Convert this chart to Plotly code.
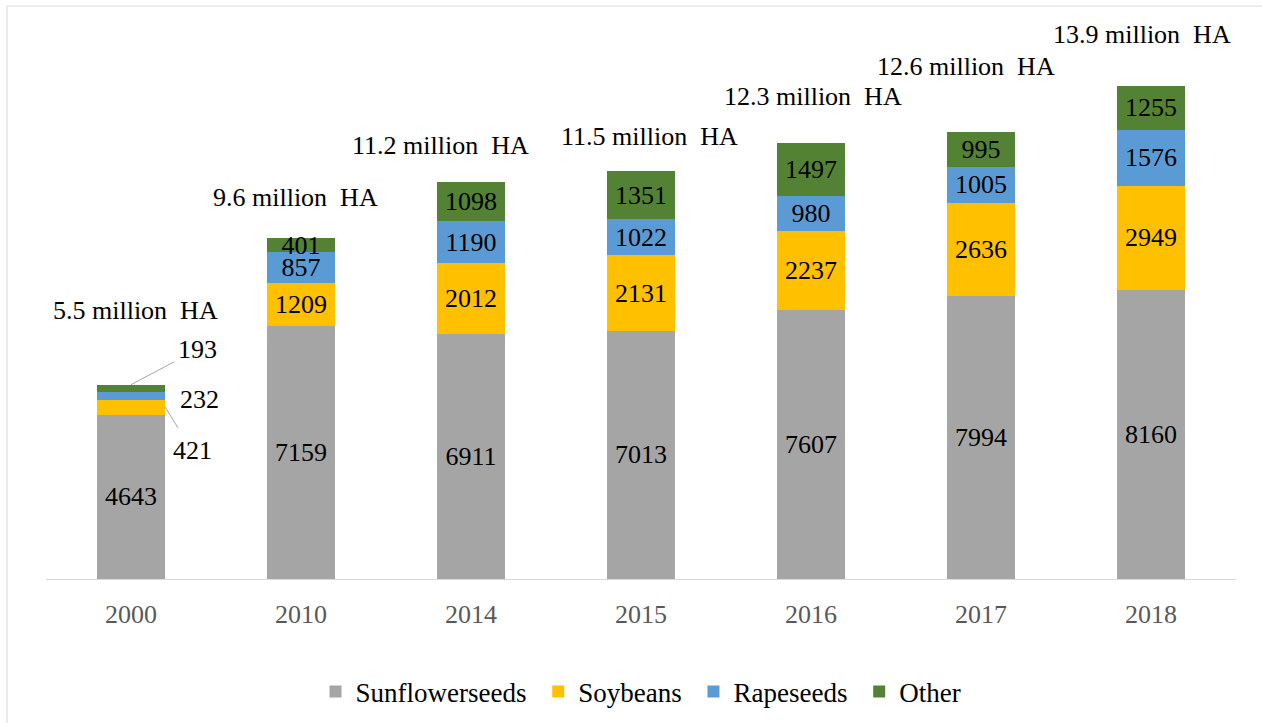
import plotly.graph_objects as go

years = ["2000", "2010", "2014", "2015", "2016", "2017", "2018"]
sunflower = [4643, 7159, 6911, 7013, 7607, 7994, 8160]
soybeans = [421, 1209, 2012, 2131, 2237, 2636, 2949]
rapeseeds = [232, 857, 1190, 1022, 980, 1005, 1576]
other = [193, 401, 1098, 1351, 1497, 995, 1255]
total_labels = ["5.5 million  HA", "9.6 million  HA", "11.2 million  HA", "11.5 million  HA",
                "12.3 million  HA", "12.6 million  HA", "13.9 million  HA"]
# pixel offsets of the total labels relative to bar tops
total_xshift = [4, -6, -31, 8, 2, -15, -9]
total_yshift = [74, 41, 37, 35, 46, 65, 51]

series = [
    ("Sunflowerseeds", sunflower, "#A5A5A5"),
    ("Soybeans", soybeans, "#FFC000"),
    ("Rapeseeds", rapeseeds, "#5B9BD5"),
    ("Other", other, "#548235"),
]

FONT = "Liberation Serif, Times New Roman, serif"
PAD = "\u00a0"

fig = go.Figure()
for i, (name, vals, color) in enumerate(series):
    # 2000 small segments are labelled outside the bar
    texts = [str(v) if (j > 0 or i == 0) else "" for j, v in enumerate(vals)]
    fig.add_trace(go.Bar(
        name=name + (PAD if i < len(series) - 1 else ""), x=years, y=vals, text=texts,
        textposition="inside", insidetextanchor="middle", textangle=0,
        textfont=dict(family=FONT, size=26, color="black"),
        marker=dict(color=color, line=dict(width=0)),
        width=0.4, hoverinfo="skip",
    ))

totals = [a + b + c + d for a, b, c, d in zip(sunflower, soybeans, rapeseeds, other)]
annotations = []
for j, y in enumerate(years):
    annotations.append(dict(
        x=j, y=totals[j], text=total_labels[j].replace("  ", " \u00a0"), showarrow=False,
        xshift=total_xshift[j], yshift=total_yshift[j], yanchor="middle",
        font=dict(family=FONT, size=26, color="black"),
    ))

# outside labels for the 2000 bar (category index 0)
c0 = sunflower[0]
c1 = c0 + soybeans[0]
c2 = c1 + rapeseeds[0]
c3 = c2 + other[0]
annotations.append(dict(x=0, y=c3, text=str(other[0]), showarrow=True,
                        arrowhead=0, arrowwidth=1, arrowcolor="#A6A6A6",
                        ax=66, ay=-35, xanchor="center", yanchor="middle",
                        standoff=0, startstandoff=2,
                        font=dict(family=FONT, size=26, color="black")))
annotations.append(dict(x=0, y=c2, text=str(rapeseeds[0]), showarrow=False,
                        xshift=68, yshift=-8, yanchor="middle",
                        font=dict(family=FONT, size=26, color="black")))
annotations.append(dict(x=0, y=c1, text=str(soybeans[0]), showarrow=True,
                        xshift=34, yshift=-7,
                        arrowhead=0, arrowwidth=1, arrowcolor="#A6A6A6",
                        ax=27, ay=44, xanchor="center", yanchor="middle",
                        standoff=0, startstandoff=8,
                        font=dict(family=FONT, size=26, color="black")))

fig.update_layout(
    barmode="stack",
    width=1262, height=723,
    margin=dict(l=46, r=26, t=20, b=144, autoexpand=False),
    paper_bgcolor="white", plot_bgcolor="white",
    font=dict(family=FONT, size=26, color="black"),
    uniformtext=dict(minsize=26, mode="show"),
    showlegend=True,
    legend=dict(orientation="h", x=0.5, xanchor="center", y=-0.202, yanchor="middle",
                font=dict(family=FONT, size=27, color="black"),
                traceorder="normal", itemwidth=30),
    annotations=annotations,
    shapes=[dict(type="rect", xref="paper", yref="paper",
                 x0=(7 - 46) / 1190, x1=(1275 - 46) / 1190,
                 y0=(579 - 740) / 559, y1=(579 - 6) / 559,
                 line=dict(color="#D9D9D9", width=1), layer="below")],
)
fig.update_xaxes(
    type="category", range=[-0.5, len(years) - 0.5],
    showline=True, linecolor="#D9D9D9", linewidth=1,
    showgrid=False, ticks="", ticklabelstandoff=12,
    tickfont=dict(family=FONT, size=26, color="#595959"),
    fixedrange=True,
)
fig.update_yaxes(
    range=[0, 559 / 0.0354], visible=False, showgrid=False, fixedrange=True,
)

fig.write_html("out.html", config={"displayModeBar": False})
